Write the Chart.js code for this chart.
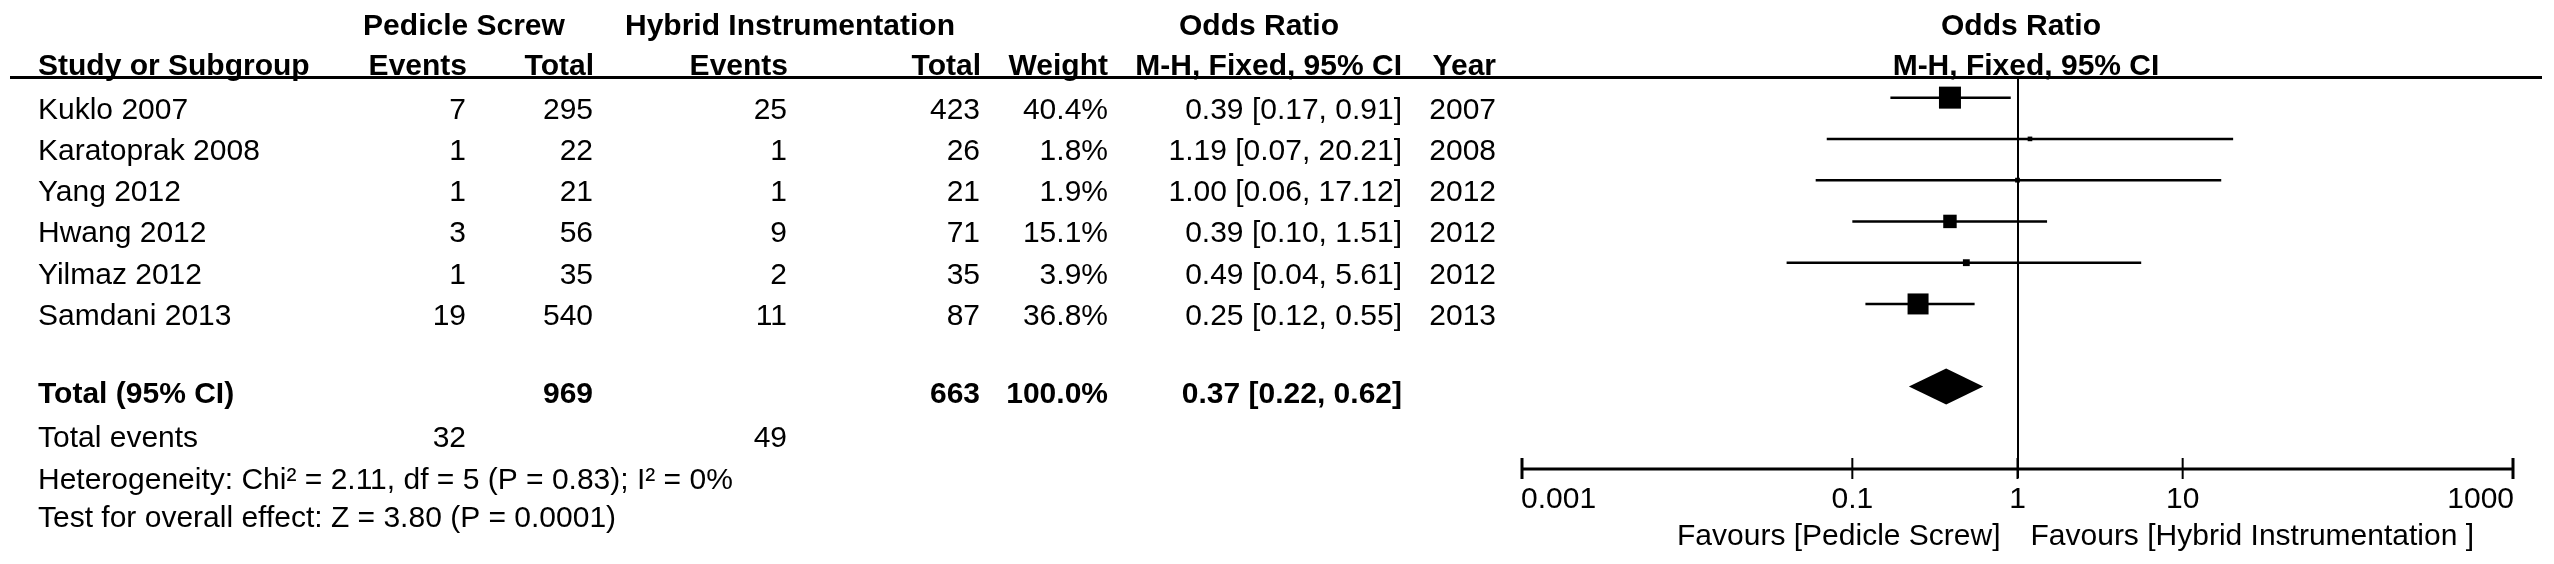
<!DOCTYPE html>
<html><head><meta charset="utf-8">
<script src="https://cdn.jsdelivr.net/npm/chart.js@4/dist/chart.umd.min.js"></script>
<style>html,body{margin:0;padding:0;background:#fff;overflow:hidden}canvas{display:block}</style>
</head><body>
<canvas id="c" width="2554" height="564"></canvas>
<script>
// ---- data ----
const studies  = ['Kuklo 2007', 'Karatoprak 2008', 'Yang 2012', 'Hwang 2012', 'Yilmaz 2012', 'Samdani 2013'];
const psEvents = [7, 1, 1, 3, 1, 19];
const psTotal  = [295, 22, 21, 56, 35, 540];
const hiEvents = [25, 1, 1, 9, 2, 11];
const hiTotal  = [423, 26, 21, 71, 35, 87];
const weights  = [40.4, 1.8, 1.9, 15.1, 3.9, 36.8];
const orVal    = [0.39, 1.19, 1.00, 0.39, 0.49, 0.25];
const ciLow    = [0.17, 0.07, 0.06, 0.10, 0.04, 0.12];
const ciHigh   = [0.91, 20.21, 17.12, 1.51, 5.61, 0.55];
const years    = [2007, 2008, 2012, 2012, 2012, 2013];
const totalPsN = 969, totalHiN = 663, totalWeight = 100.0;
const totalOR = 0.37, totalLow = 0.22, totalHigh = 0.62;
const totalPsEvents = 32, totalHiEvents = 49;
const heterogeneityText = 'Heterogeneity: Chi\u00B2 = 2.11, df = 5 (P = 0.83); I\u00B2 = 0%';
const overallText = 'Test for overall effect: Z = 3.80 (P = 0.0001)';
const tickValues = [0.001, 0.1, 1, 10, 1000];
const tickLabels = ['0.001', '0.1', '1', '10', '1000'];
const favLeft  = 'Favours [Pedicle Screw]';
const favRight = 'Favours [Hybrid Instrumentation ]';

// ---- layout (pixels) ----
const FONT = '"Liberation Sans", Arial, sans-serif';
const FS = 30;
const col = { study: 38, psEv: 466, psTot: 593, hiEv: 787, hiTot: 980, wt: 1108, ci: 1402, yr: 1496 };
const TEXT_DROP = 21;          // baseline offset below row centre
const ROW_TOTAL_TEXT = 6.9, ROW_DIAMOND = 7, ROW_EVENTS = 7.97, ROW_HET = 8.97, ROW_TEST = 9.9;

const ciDatasets = studies.map((s, i) => ({
  data: [{x: ciLow[i], y: i}, {x: ciHigh[i], y: i}],
  showLine: true, borderColor: '#000', borderWidth: 2.5, pointRadius: 0, fill: false
}));
const pointDataset = {
  data: orVal.map((v, i) => ({x: v, y: i})),
  pointStyle: 'rect',
  pointRadius: weights.map(w => 22 * Math.sqrt(w / 40.4) / Math.SQRT2),
  backgroundColor: '#000', borderColor: '#000', borderWidth: 0, showLine: false
};

function txt(ctx, s, x, y, align, bold) {
  ctx.font = (bold ? 'bold ' : '') + FS + 'px ' + FONT;
  ctx.textAlign = align; ctx.textBaseline = 'alphabetic';
  ctx.fillStyle = '#000';
  ctx.fillText(s, x, y);
}

const forestPlugin = {
  id: 'forest',
  beforeDatasetsDraw(chart) {
    const ctx = chart.ctx, xs = chart.scales.x, ys = chart.scales.y;
    const x1 = xs.getPixelForValue(1);
    ctx.save();
    ctx.fillStyle = '#000';
    ctx.fillRect(Math.round(x1) - 1, 78, 2, 400);
    ctx.restore();
  },
  afterDatasetsDraw(chart) {
    const ctx = chart.ctx, xs = chart.scales.x, ys = chart.scales.y;
    const yp = v => ys.getPixelForValue(v);
    ctx.save();
    // header line
    ctx.fillStyle = '#000';
    ctx.fillRect(10, 76, 2532, 3);
    // headers
    txt(ctx, 'Pedicle Screw', 464, 35, 'center', true);
    txt(ctx, 'Hybrid Instrumentation', 790, 35, 'center', true);
    txt(ctx, 'Odds Ratio', 1259, 35, 'center', true);
    txt(ctx, 'Odds Ratio', 2021, 35, 'center', true);
    txt(ctx, 'Study or Subgroup', col.study, 75, 'left', true);
    txt(ctx, 'Events', col.psEv + 1, 75, 'right', true);
    txt(ctx, 'Total', col.psTot + 1, 75, 'right', true);
    txt(ctx, 'Events', col.hiEv + 1, 75, 'right', true);
    txt(ctx, 'Total', col.hiTot + 1, 75, 'right', true);
    txt(ctx, 'Weight', col.wt, 75, 'right', true);
    txt(ctx, 'M-H, Fixed, 95% CI', col.ci, 75, 'right', true);
    txt(ctx, 'Year', col.yr, 75, 'right', true);
    txt(ctx, 'M-H, Fixed, 95% CI', 2026, 75, 'center', true);
    // study rows
    studies.forEach((s, i) => {
      const b = yp(i) + TEXT_DROP;
      txt(ctx, s, col.study, b, 'left', false);
      txt(ctx, String(psEvents[i]), col.psEv, b, 'right', false);
      txt(ctx, String(psTotal[i]), col.psTot, b, 'right', false);
      txt(ctx, String(hiEvents[i]), col.hiEv, b, 'right', false);
      txt(ctx, String(hiTotal[i]), col.hiTot, b, 'right', false);
      txt(ctx, weights[i].toFixed(1) + '%', col.wt, b, 'right', false);
      txt(ctx, orVal[i].toFixed(2) + ' [' + ciLow[i].toFixed(2) + ', ' + ciHigh[i].toFixed(2) + ']', col.ci, b, 'right', false);
      txt(ctx, String(years[i]), col.yr, b, 'right', false);
    });
    // total row
    let b = yp(ROW_TOTAL_TEXT) + TEXT_DROP;
    txt(ctx, 'Total (95% CI)', col.study, b, 'left', true);
    txt(ctx, String(totalPsN), col.psTot, b, 'right', true);
    txt(ctx, String(totalHiN), col.hiTot, b, 'right', true);
    txt(ctx, totalWeight.toFixed(1) + '%', col.wt, b, 'right', true);
    txt(ctx, totalOR.toFixed(2) + ' [' + totalLow.toFixed(2) + ', ' + totalHigh.toFixed(2) + ']', col.ci, b, 'right', true);
    b = yp(ROW_EVENTS) + TEXT_DROP;
    txt(ctx, 'Total events', col.study, b, 'left', false);
    txt(ctx, String(totalPsEvents), col.psEv, b, 'right', false);
    txt(ctx, String(totalHiEvents), col.hiEv, b, 'right', false);
    txt(ctx, heterogeneityText, col.study, yp(ROW_HET) + TEXT_DROP, 'left', false);
    txt(ctx, overallText, col.study, yp(ROW_TEST) + TEXT_DROP, 'left', false);
    // diamond
    const dy = yp(ROW_DIAMOND);
    ctx.beginPath();
    ctx.moveTo(xs.getPixelForValue(totalLow), dy);
    ctx.lineTo(xs.getPixelForValue(totalOR), dy - 18);
    ctx.lineTo(xs.getPixelForValue(totalHigh), dy);
    ctx.lineTo(xs.getPixelForValue(totalOR), dy + 18);
    ctx.closePath();
    ctx.fillStyle = '#000';
    ctx.fill();
    // axis
    const ay = chart.chartArea.bottom;
    const ax0 = xs.getPixelForValue(tickValues[0]);
    const ax1 = xs.getPixelForValue(tickValues[tickValues.length - 1]);
    ctx.fillRect(ax0, ay - 1.5, ax1 - ax0, 3);
    tickValues.forEach((v, i) => {
      const px = xs.getPixelForValue(v);
      const w = (i === 0 || i === tickValues.length - 1) ? 3 : 2;
      ctx.fillRect(px - w / 2, ay - 11, w, 21);
      const align = i === 0 ? 'left' : (i === tickValues.length - 1 ? 'right' : 'center');
      txt(ctx, tickLabels[i], i === 0 ? px - 1 : (i === tickValues.length - 1 ? px + 1 : px), 508, align, false);
    });
    const x1 = xs.getPixelForValue(1);
    txt(ctx, favLeft, x1 - 17, 545, 'right', false);
    txt(ctx, favRight, x1 + 13, 545, 'left', false);
    ctx.restore();
  }
};

new Chart(document.getElementById('c'), {
  type: 'scatter',
  data: { datasets: [...ciDatasets, pointDataset] },
  options: {
    responsive: false, animation: false, devicePixelRatio: 1,
    layout: { padding: { left: 1522, right: 41, top: 77, bottom: 95 } },
    plugins: { legend: { display: false }, tooltip: { enabled: false } },
    events: [],
    scales: {
      x: { type: 'logarithmic', min: 0.001, max: 1000, display: false },
      y: { type: 'linear', min: -0.5, max: 9, reverse: true, display: false }
    }
  },
  plugins: [forestPlugin]
});
</script>
</body></html>
